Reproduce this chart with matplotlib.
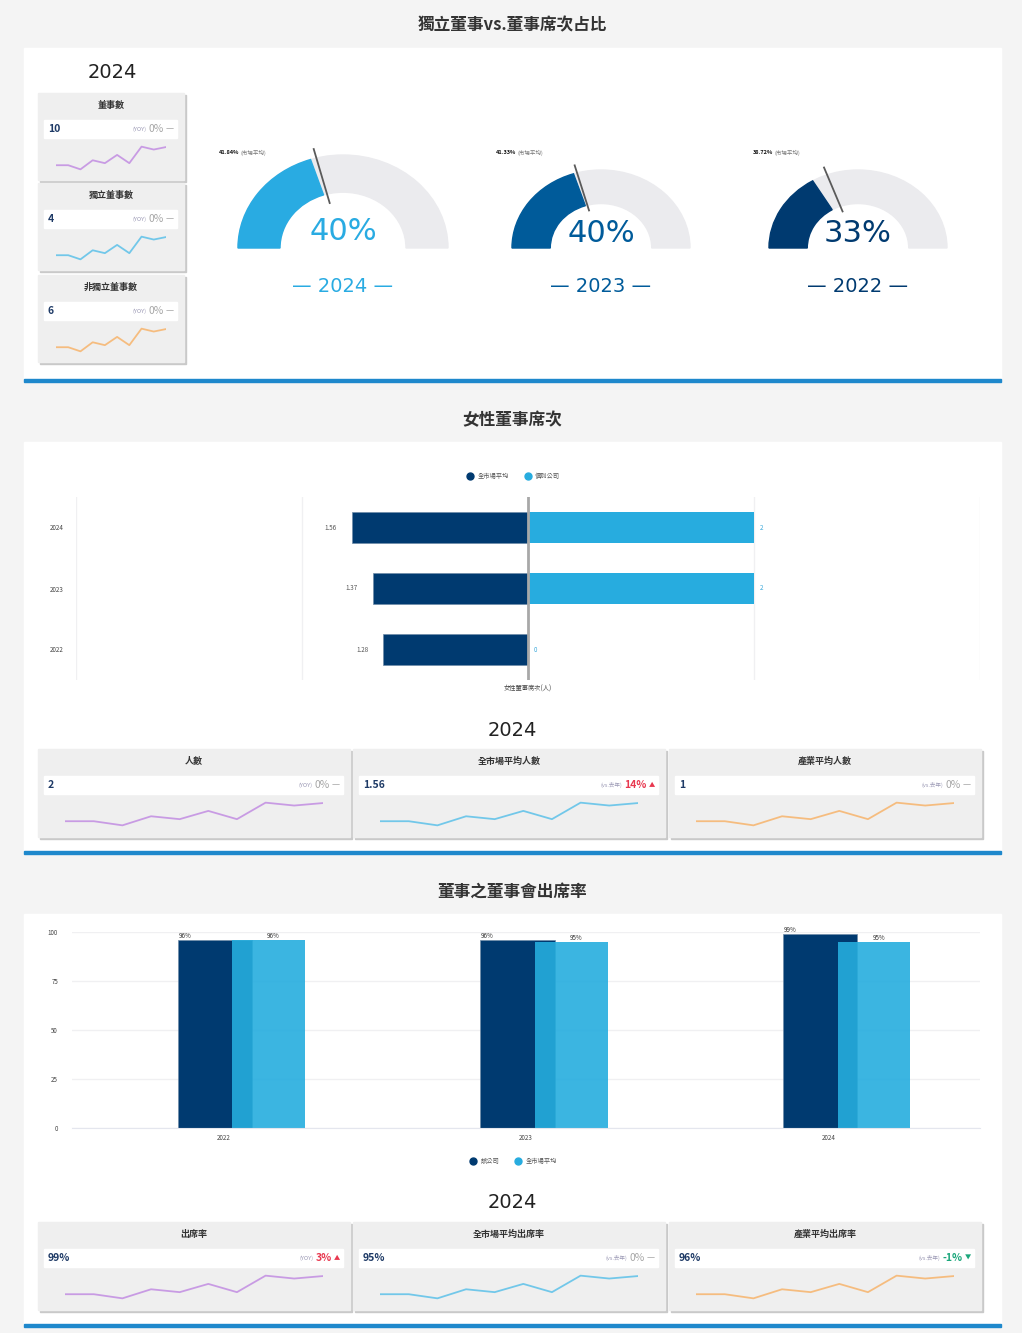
import numpy as np
import matplotlib.pyplot as plt
from matplotlib.patches import Rectangle, Wedge
from matplotlib.lines import Line2D

plt.rcParams['font.family'] = ['Noto Sans CJK TC', 'DejaVu Sans']

W, H = 1022, 1333

# ---- data ----
gauge_years = ['2024', '2023', '2022']
indep_ratio = [40, 40, 33]
market_ratio = [41.84, 41.33, 38.72]
gauge_colors = ['#29ABE2', '#005B9A', '#003A70']

top_titles = ['董事數', '獨立董事數', '非獨立董事數']
top_values = ['10', '4', '6']
top_change = [0, 0, 0]

female_years = ['2024', '2023', '2022']
female_market = [1.56, 1.37, 1.28]
female_company = [2, 2, 0]

female_titles = ['人數', '全市場平均人數', '產業平均人數']
female_values = ['2', '1.56', '1']
female_change = [0, 14, 0]

att_years = ['2022', '2023', '2024']
att_company = [96, 96, 99]
att_market = [96, 95, 95]

att_titles = ['出席率', '全市場平均出席率', '產業平均出席率']
att_values = ['99%', '95%', '96%']
att_change = [3, 0, -1]

card_tags = ['(YOY)', '(vs.去年)', '(vs.去年)']
spark = [20, 20, 10, 32, 25, 45, 25, 65, 58, 64]
spark_colors = ['#C28DE2', '#5CC1E9', '#F7B46C']

DARK = '#003A70'
LIGHT = '#27ACDF'

fig = plt.figure(figsize=(W / 100, H / 100), dpi=100)
fig.patch.set_facecolor('#F4F4F4')
rend = fig.canvas.get_renderer()


def fig_rect(x, y, w, h, **kw):
    r = Rectangle((x / W, 1 - (y + h) / H), w / W, h / H,
                  transform=fig.transFigure, **kw)
    fig.add_artist(r)
    return r


def fig_txt(x, y, s, **kw):
    return fig.text(x / W, 1 - y / H, s, **kw)


def add_ax(x, y, w, h):
    ax = fig.add_axes([x / W, 1 - (y + h) / H, w / W, h / H])
    ax.set_facecolor('none')
    return ax


def card(x, y, w, title, value, tag, change, color, h=88):
    fig_rect(x + 2, y + 2, w, h, color='#C9C9C9', zorder=-1)
    fig_rect(x, y, w, h, color='#EFEFEF', zorder=-1)
    fig_txt(x + w / 2, y + 12, title, ha='center', va='center',
            fontsize=6.5, fontweight='bold', color='#333333')
    fig_rect(x + 6, y + 27, w - 13, 18, color='white', zorder=-1)
    fig_txt(x + 10, y + 36, value, ha='left', va='center', fontsize=7.5,
            fontweight='bold', color='#1E3A66')
    if change > 0:
        col, mark, txt = '#E8384F', '▲', f'{change}%'
    elif change < 0:
        col, mark, txt = '#1BA77B', '▼', f'{change}%'
    else:
        col, mark, txt = '#A6A6A6', '—', '0%'
    t = fig_txt(x + w - 10, y + 36, mark, ha='right', va='center',
                fontsize=4.5 if change else 6.5, color=col)
    x0 = t.get_window_extent(rend).x0
    t = fig_txt(x0 - 2, y + 36, txt, ha='right', va='center', fontsize=7.5,
                color=col, fontweight='bold' if change else 'normal')
    x0 = t.get_window_extent(rend).x0
    fig_txt(x0 - 2, y + 36, tag, ha='right', va='center', fontsize=4,
            color='#9A98B4')
    m = 10 + 0.055 * w
    sx = add_ax(x + m, y + 52, w - 2 * m, 26)
    sx.plot(range(len(spark)), spark, color=color, lw=1.3, alpha=0.85)
    sx.set_xlim(0, len(spark) - 1)
    sx.set_ylim(min(spark) - 4, max(spark) + 4)
    sx.axis('off')


def legend_at(ax, labels, colors, cx, cy):
    handles = [Line2D([], [], marker='o', ls='', color=c, markersize=5)
               for c in colors]
    ax.legend(handles, labels, loc='center', ncol=2, frameon=False,
              fontsize=4.5, handletextpad=0.2, columnspacing=2.0,
              bbox_to_anchor=(cx / W, 1 - cy / H),
              bbox_transform=fig.transFigure, labelcolor='#555555')


# ---- panels ----
for top, bottom in [(48, 380), (442, 852), (914, 1325)]:
    fig_rect(24, top, 977, bottom - top, color='white', zorder=-2)
    fig_rect(24, bottom - 1, 977, 2.5, color='#1E88CC', zorder=-1)

sec_kw = dict(ha='center', va='center', fontsize=12, fontweight='bold',
              color='#333333')
fig_txt(512, 25, '獨立董事vs.董事席次占比', **sec_kw)
fig_txt(512, 420, '女性董事席次', **sec_kw)
fig_txt(512, 892, '董事之董事會出席率', **sec_kw)

year_kw = dict(ha='center', va='center', fontsize=14, color='#222222',
               family='DejaVu Sans')

# ---- section 1: cards ----
fig_txt(112, 73, '2024', **year_kw)
for i, ty in enumerate([93, 183, 275]):
    card(38, ty, 146, top_titles[i], top_values[i], '(YOY)', top_change[i],
         spark_colors[i], h=87)

# ---- section 1: gauges ----
gauge_cx = [343, 601, 858]
gauge_rx = [105, 89, 89]
gauge_ry = [93, 78, 78]
gauge_in = [0.6, 0.57, 0.57]
cy = 248
for i in range(3):
    cx, rx, ry = gauge_cx[i], gauge_rx[i], gauge_ry[i]
    ax = add_ax(cx - 1.3 * rx, cy - 1.3 * ry, 2.6 * rx, 1.6 * ry)
    ax.set_xlim(-1.3, 1.3)
    ax.set_ylim(-0.3, 1.3)
    ax.axis('off')
    wd = 1 - gauge_in[i]
    ax.add_patch(Wedge((0, 0), 1, 0, 180, width=wd, color='#EBEBEE'))
    ax.add_patch(Wedge((0, 0), 1, 180 - 180 * indep_ratio[i] / 100, 180,
                       width=wd, color=gauge_colors[i]))
    a = np.pi * (1 - market_ratio[i] / 100)
    ax.plot([0.5 * np.cos(a), 1.1 * np.cos(a)],
            [0.5 * np.sin(a), 1.1 * np.sin(a)], color='#5A5A5A', lw=1.3)
    ax.text(0, 0.18, f'{indep_ratio[i]}%', ha='center', va='center',
            fontsize=22, color=gauge_colors[i], family='DejaVu Sans')
    t = fig_txt(cx - 1.2 * rx + 2, 153, f'{market_ratio[i]:.2f}%', ha='left',
                va='center', fontsize=4, fontweight='bold', color='#111111')
    x1 = t.get_window_extent(rend).x1
    fig_txt(x1 + 1, 153, '(市場平均)', ha='left', va='center', fontsize=4,
            color='#777777')
    fig_txt(cx, 286, f'— {gauge_years[i]} —', ha='center', va='center',
            fontsize=14, color=gauge_colors[i], family='DejaVu Sans')

# ---- section 2: female directors ----
ax = add_ax(76, 497, 904, 183)
yy = np.arange(len(female_years))
ax.barh(yy, [-v for v in female_market], height=0.5, color=DARK,
        edgecolor='#6F8BA8', lw=0.5)
ax.barh(yy, female_company, height=0.5, color=LIGHT)
ax.set_xlim(-4, 4)
ax.set_ylim(2.5, -0.5)
ax.set_xticks([-4, -2, 0, 2, 4])
ax.grid(axis='x', color='#F0F0F2', lw=1)
ax.set_axisbelow(True)
ax.axvline(0, color='#A8A8A8', lw=2)
ax.tick_params(axis='x', length=0, labelbottom=False)
ax.set_yticks(yy, female_years)
ax.tick_params(axis='y', length=0, pad=9, labelsize=4.5, labelcolor='#444444')
for s in ax.spines.values():
    s.set_visible(False)
ax.set_xlabel('女性董事席次(人)', fontsize=4.5, labelpad=3, color='#444444')
for i in range(len(yy)):
    ax.annotate(f'{female_market[i]:.2f}', (-female_market[i], yy[i]),
                xytext=(-11, 0), textcoords='offset points', ha='right',
                va='center', fontsize=4.5, color='#555555')
    ax.annotate(f'{female_company[i]}', (female_company[i], yy[i]),
                xytext=(4, 0), textcoords='offset points', ha='left',
                va='center', fontsize=4.5, color='#3AA8DA')
legend_at(ax, ['全市場平均', '個別公司'], [DARK, LIGHT], 512, 476)

fig_txt(512, 730, '2024', **year_kw)
for i, cx in enumerate([38, 353, 669]):
    card(cx, 749, 312, female_titles[i], female_values[i], card_tags[i],
         female_change[i], spark_colors[i])

# ---- section 3: attendance ----
ax = add_ax(72, 932, 908, 196)
xx = np.arange(len(att_years))
ax.bar(xx - 0.028, att_company, width=0.245, color=DARK,
       edgecolor='#6F8BA8', lw=0.5)
ax.bar(xx + 0.15, att_market, width=0.24, color='#25ADDE', alpha=0.9)
ax.set_xlim(-0.5, 2.5)
ax.set_ylim(0, 100)
ax.set_yticks([0, 25, 50, 75, 100])
ax.grid(axis='y', color='#F0F0F2', lw=1)
ax.set_axisbelow(True)
for s in ax.spines.values():
    s.set_visible(False)
ax.spines['bottom'].set_visible(True)
ax.spines['bottom'].set_color('#E4E6EE')
ax.set_xticks(xx, att_years)
ax.tick_params(axis='both', length=0, labelsize=4.5, labelcolor='#444444')
ax.tick_params(axis='y', pad=10)
ax.tick_params(axis='x', pad=4)
for i in range(len(xx)):
    ax.text(xx[i] - 0.148, att_company[i], f'{att_company[i]}%', ha='left',
            va='bottom', fontsize=4.5, color='#333333')
    ax.text(xx[i] + 0.165, att_market[i], f'{att_market[i]}%', ha='center',
            va='bottom', fontsize=4.5, color='#333333')
legend_at(ax, ['該公司', '全市場平均'], [DARK, LIGHT], 512, 1161)

fig_txt(512, 1202, '2024', **year_kw)
for i, cx in enumerate([38, 353, 669]):
    card(cx, 1222, 312, att_titles[i], att_values[i], card_tags[i],
         att_change[i], spark_colors[i])

fig.savefig('out.png', dpi=100, facecolor=fig.get_facecolor())
